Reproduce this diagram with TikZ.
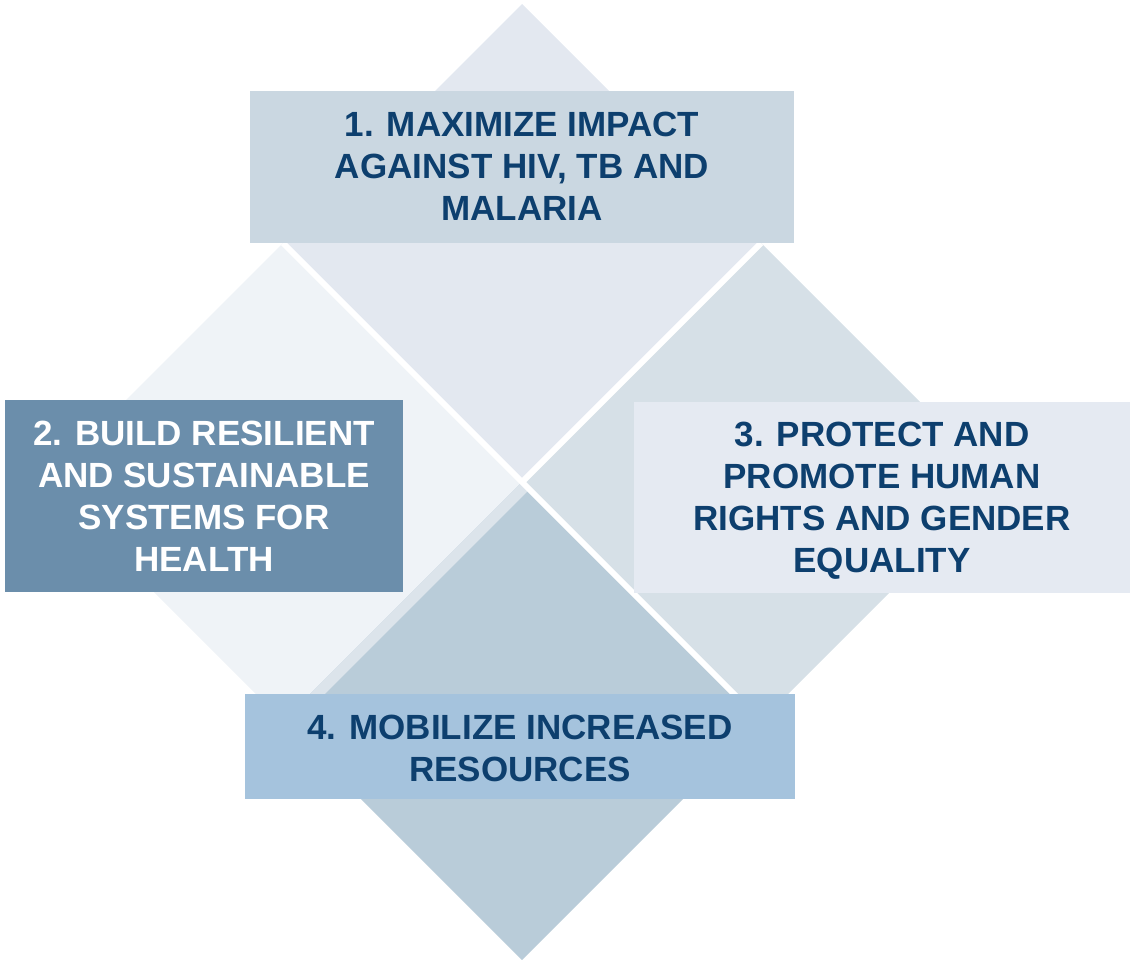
\documentclass[tikz,border=0pt]{standalone}
\usepackage{fontspec}
\setmainfont{Liberation Sans}
\definecolor{dtop}{HTML}{E3E8F0}
\definecolor{dleft}{HTML}{EFF3F7}
\definecolor{dright}{HTML}{D6E0E7}
\definecolor{dbot}{HTML}{B9CCD9}
\definecolor{dstrip}{HTML}{DCE4EB}
\definecolor{boxa}{HTML}{CAD7E1}
\definecolor{boxb}{HTML}{6B8EAB}
\definecolor{boxc}{HTML}{E5EAF2}
\definecolor{boxd}{HTML}{A5C3DD}
\definecolor{txt}{HTML}{0D3F6E}
\begin{document}
\begin{tikzpicture}[x=1pt,y=-1pt,
  lbl/.style={align=center,font=\fontsize{35}{42}\selectfont\bfseries,inner sep=0pt}]
\useasboundingbox (0,0) rectangle (1130,960);
% diamonds
\fill[dtop] (522,4) -- (761,243) -- (522,482) -- (283,243) -- cycle;
\fill[dleft] (283,243) -- (522,482) -- (283,721) -- (44,482) -- cycle;
\fill[dright] (761,243) -- (1000,482) -- (761,721) -- (522,482) -- cycle;
\fill[dbot] (522,482) -- (761,721) -- (522,960) -- (283,721) -- cycle;
\begin{scope}
  \clip (522,482) -- (761,721) -- (522,960) -- (283,721) -- cycle;
  \draw[dstrip,line width=21pt] (522,482) -- (283,721);
\end{scope}
% white gaps
\coordinate (c) at (522,482);
\coordinate (tl) at (283,243);
\coordinate (br) at (761,721);
\coordinate (tr) at (761,243);
\draw[white,line width=6pt] (tl) -- (br);
\draw[white,line width=6pt] (tr) -- (c);
% boxes
\fill[boxa] (250,91) rectangle (794,243);
\fill[boxb] (5,400) rectangle (403,592);
\fill[boxc] (634,402) rectangle (1130,593);
\fill[boxd] (245,694) rectangle (795,799);
\node[lbl,text=txt] (t1) at (522,166) {1. MAXIMIZE IMPACT\\AGAINST HIV, TB AND\\MALARIA};
\node[lbl,text=white] (t2) at (204,496) {2. BUILD RESILIENT\\AND SUSTAINABLE\\SYSTEMS FOR\\HEALTH};
\node[lbl,text=txt] (t3) at (882,500.5) {3. PROTECT AND\\PROMOTE HUMAN\\RIGHTS AND GENDER\\EQUALITY};
\node[lbl,text=txt] (t4) at (520,748) {4. MOBILIZE INCREASED\\RESOURCES};
\end{tikzpicture}
\end{document}
